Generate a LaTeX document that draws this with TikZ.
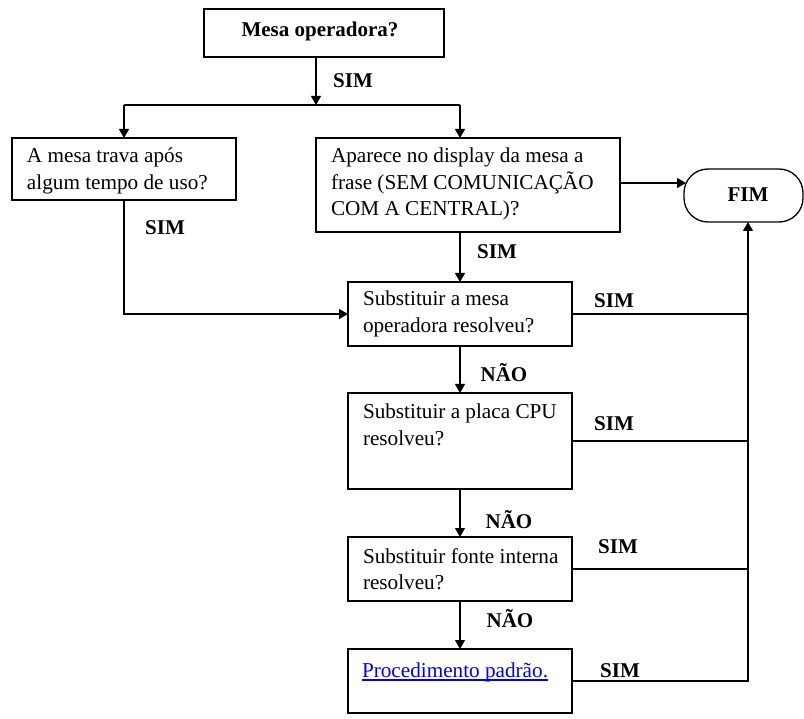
\documentclass[tikz,border=0pt]{standalone}
\usepackage{fontspec}
\setmainfont{Liberation Serif}
\usetikzlibrary{arrows.meta,calc}
\definecolor{linkblue}{RGB}{0,0,255}
\newcommand{\boxfont}{\fontsize{21.2}{26.5}\selectfont}
\begin{document}
\begin{tikzpicture}[x=1pt,y=-1pt,
  every node/.style={inner sep=0pt,outer sep=0pt},
  box/.style={draw,line width=1.3pt,anchor=north west},
  fimbox/.style={draw,line width=1.3pt,anchor=north west,rounded corners=24pt},
  txt/.style={anchor=base west,font=\boxfont},
  lbl/.style={anchor=base,font=\fontsize{21}{24}\selectfont\bfseries},
  conn/.style={line width=1.3pt},
  arr/.style={conn,-{Triangle[length=9pt,width=10pt]}},
]
\useasboundingbox (0,0) rectangle (804,719);

% boxes
\node[box,minimum width=240pt,minimum height=48pt] (b0) at (204,9) {};
\node[box,minimum width=224pt,minimum height=62pt] (b1) at (12,138) {};
\node[box,minimum width=304pt,minimum height=94pt] (b2) at (316,138) {};
\node[fimbox,minimum width=119pt,minimum height=53pt] (fim) at (684,169) {};
\node[box,minimum width=224pt,minimum height=64pt] (b3) at (348,282) {};
\node[box,minimum width=224pt,minimum height=96pt] (b4) at (348,393) {};
\node[box,minimum width=224pt,minimum height=64pt] (b5) at (348,537) {};
\node[box,minimum width=224pt,minimum height=64pt] (b6) at (348,649) {};

% texts
\node[lbl] (t0) at (320,37) {Mesa operadora?};
\node[txt] (t1) at (27,163) {\parbox[t]{215pt}{\boxfont\raggedright A mesa trava após\\algum tempo de uso?}};
\node[txt] (t2) at (331,163) {\parbox[t]{285pt}{\boxfont\raggedright Aparece no display da mesa a\\frase (SEM COMUNICAÇÃO\\COM A CENTRAL)?}};
\node[lbl] (tf) at (748,202) {FIM};
\node[txt] (t3) at (363,306) {\parbox[t]{205pt}{\boxfont\raggedright Substituir a mesa\\operadora resolveu?}};
\node[txt] (t4) at (363,419) {\parbox[t]{205pt}{\boxfont\raggedright Substituir a placa CPU\\resolveu?}};
\node[txt] (t5) at (363,563) {\parbox[t]{205pt}{\boxfont\raggedright Substituir fonte interna\\resolveu?}};
\node[txt,text=linkblue] (t6) at (362,677) {Procedimento padrão.};
\draw[linkblue,line width=1.2pt] ([yshift=-3pt]t6.base west) -- ([yshift=-3pt]t6.base east);

% labels
\node[lbl] (l0) at (353,88) {SIM};
\node[lbl] (l1) at (165,235) {SIM};
\node[lbl] (l2) at (497,259) {SIM};
\node[lbl] (l3) at (614,308) {SIM};
\node[lbl] (l4) at (504,382) {NÃO};
\node[lbl] (l5) at (614,431) {SIM};
\node[lbl] (l6) at (509,529) {NÃO};
\node[lbl] (l7) at (618,553) {SIM};
\node[lbl] (l8) at (510,627) {NÃO};
\node[lbl] (l9) at (620,677) {SIM};

% connectors
\coordinate (split) at (316,105);
\coordinate (sl) at (124,105);
\coordinate (sr) at (460,105);
\coordinate (rv) at (748,681);
\coordinate (fimin) at (686,183);

\draw[arr] (b0.south -| split) -- (split);
\draw[conn] (sl) -- (sr);
\draw[arr] (sl) -- (sl |- b1.north);
\draw[arr] (sr) -- (sr |- b2.north);
\draw[arr] (sl |- b1.south) |- (b3.west);
\draw[arr] (sr |- b2.south) -- (sr |- b3.north);
\draw[arr] (b2.east |- fimin) -- (fimin);
\draw[arr] (b3.south) -- (b4.north);
\draw[arr] (b4.south) -- (b5.north);
\draw[arr] (b5.south) -- (b6.north);
\draw[arr] (b6.east) -- (rv) -- (rv |- fim.south);
\draw[conn] (b3.east) -- (b3.east -| rv);
\draw[conn] (b4.east) -- (b4.east -| rv);
\draw[conn] (b5.east) -- (b5.east -| rv);
\end{tikzpicture}
\end{document}
